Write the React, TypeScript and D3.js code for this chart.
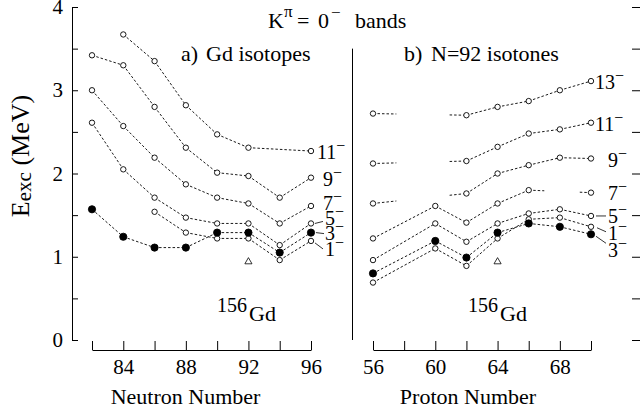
import React, { useEffect, useRef } from "react";
import * as d3 from "d3";

// K^pi = 0^- bands, excitation energies (MeV)
const neutronN = [82, 84, 86, 88, 90, 92, 94, 96];
const gd11 = [null, 3.67, 3.35, 2.82, 2.47, 2.31, null, 2.27];
const gd9 = [3.42, 3.3, 2.8, 2.31, 2.01, 1.97, 1.71, 1.95];
const gd7 = [3.0, 2.57, 2.19, 1.87, 1.71, 1.64, 1.4, 1.61];
const gd5 = [2.61, 2.05, 1.71, 1.47, 1.4, 1.4, 1.14, 1.4];
const gd3 = [1.57, 1.24, 1.11, 1.11, 1.29, 1.29, 1.05, 1.29];
const gd1 = [null, null, 1.54, 1.29, 1.22, 1.22, 0.96, 1.19];

const protonZ = [56, 60, 62, 64, 66, 68, 70];
const z13 = [2.72, null, 2.7, 2.8, 2.87, 3.0, 3.11];
const z11 = [2.12, null, 2.15, 2.32, 2.48, 2.53, 2.61];
const z9 = [1.64, null, 1.76, 2.0, 2.1, 2.19, 2.18];
const z7 = [1.22, 1.61, 1.41, 1.64, 1.8, null, 1.77];
const z5 = [0.96, 1.4, 1.18, 1.4, 1.52, 1.57, 1.49];
const z3 = [0.8, 1.19, 0.99, 1.29, 1.4, 1.36, 1.27];
const z1 = [0.69, 1.1, 0.89, 1.22, 1.45, 1.47, 1.36];

// 156Gd 1- level (triangle)
const gd156N = 92;
const gd156Z = 64;
const gd156E = 0.94;

const yTicks = [0, 0.5, 1, 1.5, 2, 2.5, 3, 3.5, 4];
const yTickLabels = [0, 1, 2, 3, 4];
const nTicks = [82, 84, 86, 88, 90, 92, 94, 96];
const nTickLabels = [84, 88, 92, 96];
const zTicks = [56, 58, 60, 62, 64, 66, 68, 70];
const zTickLabels = [56, 60, 64, 68];

const FONT = "Liberation Serif";

const yScale = d3.scaleLinear().domain([0, 4]).range([340, 7]);
const xN = d3.scaleLinear().domain([82, 96]).range([92, 311]);
const xZ = d3.scaleLinear().domain([56, 70]).range([373, 591]);

type Pt = [number, number];

function segments(xs, vals, xScale, stub) {
  const pts = xs
    .map((x, i) => ({ x, v: vals[i], i }))
    .filter((p) => p.v != null);
  const segs: Pt[][] = [];
  for (let k = 0; k < pts.length - 1; k++) {
    const a = pts[k];
    const b = pts[k + 1];
    const pa: Pt = [xScale(a.x), yScale(a.v)];
    const pb: Pt = [xScale(b.x), yScale(b.v)];
    if (!stub || b.i === a.i + 1) {
      segs.push([pa, pb]);
    } else {
      // missing levels: only short stubs at both ends
      const lerp = (t): Pt => [pa[0] + (pb[0] - pa[0]) * t, pa[1] + (pb[1] - pa[1]) * t];
      segs.push([pa, lerp(0.25)]);
      segs.push([lerp(0.82), pb]);
    }
  }
  return segs;
}

const line = d3.line<Pt>();

const Band = ({ xs, vals, xScale, filled, stub }) => {
  const segs = segments(xs, vals, xScale, stub);
  return (
    <g>
      {segs.map((s, i) => (
        <path key={i} d={line(s)} fill="none" stroke="#000" strokeWidth={0.9} strokeDasharray="2.5,2" />
      ))}
      {xs.map((x, i) =>
        vals[i] == null ? null : (
          <circle
            key={"c" + i}
            cx={xScale(x)}
            cy={yScale(vals[i])}
            r={filled ? 3.6 : 2.7}
            fill={filled ? "#000" : "#fff"}
            stroke="#000"
            strokeWidth={0.9}
          />
        )
      )}
    </g>
  );
};

const Spin = ({ x, y, n }) => (
  <text x={x} y={y} fontSize={20} fontFamily={FONT}>
    {n}
    <tspan dy={-8} fontSize={16}>−</tspan>
  </text>
);

export default function App() {
  const axesRef = useRef(null);

  useEffect(() => {
    const g = d3.select(axesRef.current);
    g.selectAll("*").remove();

    const yAxis = d3
      .axisLeft(yScale)
      .tickValues(yTicks)
      .tickSize(-6)
      .tickSizeOuter(0)
      .tickPadding(9)
      .tickFormat((d) => (yTickLabels.includes(+d) ? String(d) : ""));
    g.append("g").attr("transform", "translate(72,0)").call(yAxis);

    const rightAxis = d3
      .axisRight(yScale)
      .tickValues(yTicks)
      .tickSize(-8)
      .tickSizeOuter(0)
      .tickFormat(() => "");
    g.append("g")
      .attr("transform", "translate(640,0)")
      .call(rightAxis)
      .select(".domain")
      .attr("stroke", "none");

    const nAxis = d3
      .axisBottom(xN)
      .tickValues(nTicks)
      .tickSize(-9)
      .tickSizeOuter(0)
      .tickPadding(9)
      .tickFormat((d) => (nTickLabels.includes(+d) ? String(d) : ""));
    g.append("g").attr("transform", "translate(0,350)").call(nAxis);

    const zAxis = d3
      .axisBottom(xZ)
      .tickValues(zTicks)
      .tickSize(-9)
      .tickSizeOuter(0)
      .tickPadding(9)
      .tickFormat((d) => (zTickLabels.includes(+d) ? String(d) : ""));
    g.append("g").attr("transform", "translate(0,350)").call(zAxis);

    g.selectAll("text")
      .attr("font-family", FONT)
      .attr("font-size", 21)
      .attr("fill", "#000");
    g.selectAll(".tick line").attr("stroke", "#000");
  }, []);

  const xEndN = xN(96);
  const xEndZ = xZ(70);

  return (
    <svg
      width={640}
      height={415}
      style={{ position: "absolute", left: 0, top: 0, background: "#fff" }}
      fontFamily={FONT}
    >
      <rect width={640} height={415} fill="#fff" />
      <g ref={axesRef} />

      {/* divider between panels */}
      <line x1={352.5} x2={352.5} y1={yScale(3.5)} y2={yScale(0)} stroke="#000" />

      {/* left: Gd isotopes */}
      <Band xs={neutronN} vals={gd11} xScale={xN} filled={false} stub={false} />
      <Band xs={neutronN} vals={gd9} xScale={xN} filled={false} stub={false} />
      <Band xs={neutronN} vals={gd7} xScale={xN} filled={false} stub={false} />
      <Band xs={neutronN} vals={gd5} xScale={xN} filled={false} stub={false} />
      <Band xs={neutronN} vals={gd1} xScale={xN} filled={false} stub={false} />
      <Band xs={neutronN} vals={gd3} xScale={xN} filled={true} stub={false} />

      {/* right: N=92 isotones */}
      <Band xs={protonZ} vals={z13} xScale={xZ} filled={false} stub={true} />
      <Band xs={protonZ} vals={z11} xScale={xZ} filled={false} stub={true} />
      <Band xs={protonZ} vals={z9} xScale={xZ} filled={false} stub={true} />
      <Band xs={protonZ} vals={z7} xScale={xZ} filled={false} stub={true} />
      <Band xs={protonZ} vals={z5} xScale={xZ} filled={false} stub={true} />
      <Band xs={protonZ} vals={z1} xScale={xZ} filled={false} stub={true} />
      <Band xs={protonZ} vals={z3} xScale={xZ} filled={true} stub={true} />

      {/* 156Gd triangles */}
      <path
        d={d3.symbol(d3.symbolTriangle, 22)()}
        transform={`translate(${xN(gd156N)},${yScale(gd156E)})`}
        fill="none"
        stroke="#000"
        strokeWidth={0.8}
      />
      <path
        d={d3.symbol(d3.symbolTriangle, 22)()}
        transform={`translate(${xZ(gd156Z)},${yScale(gd156E)})`}
        fill="none"
        stroke="#000"
        strokeWidth={0.8}
      />

      {/* spin labels, left */}
      <Spin x={xEndN + 6} y={yScale(gd11[7]) + 8} n="11" />
      <Spin x={xEndN + 12} y={yScale(gd9[7]) + 8} n="9" />
      <Spin x={xEndN + 12} y={210} n="7" />
      <Spin x={xEndN + 14} y={225} n="5" />
      <Spin x={xEndN + 14} y={240} n="3" />
      <Spin x={xEndN + 14} y={256} n="1" />
      <line x1={xEndN + 4} y1={yScale(gd5[7])} x2={xEndN + 12} y2={yScale(gd5[7]) - 2} stroke="#000" strokeWidth={0.8} />
      <line x1={xEndN + 5} y1={yScale(gd3[7])} x2={xEndN + 13} y2={yScale(gd3[7]) + 1} stroke="#000" strokeWidth={0.8} />
      <line x1={xEndN + 4} y1={yScale(gd1[7]) + 2} x2={xEndN + 12} y2={yScale(gd1[7]) + 8} stroke="#000" strokeWidth={0.8} />

      {/* spin labels, right */}
      <Spin x={xEndZ + 4} y={yScale(z13[6]) + 8} n="13" />
      <Spin x={xEndZ + 4} y={yScale(z11[6]) + 8} n="11" />
      <Spin x={xEndZ + 17} y={yScale(z9[6]) + 8} n="9" />
      <Spin x={xEndZ + 17} y={200} n="7" />
      <Spin x={xEndZ + 17} y={223} n="5" />
      <Spin x={xEndZ + 17} y={240} n="1" />
      <Spin x={xEndZ + 17} y={257} n="3" />
      <line x1={xEndZ + 5} y1={yScale(z5[6])} x2={xEndZ + 15} y2={yScale(z5[6])} stroke="#000" strokeWidth={0.8} />
      <line x1={xEndZ + 6} y1={yScale(z1[6]) + 1} x2={xEndZ + 15} y2={yScale(z1[6]) + 5} stroke="#000" strokeWidth={0.8} />
      <line x1={xEndZ + 5} y1={yScale(z3[6]) + 2} x2={xEndZ + 15} y2={yScale(z3[6]) + 9} stroke="#000" strokeWidth={0.8} />

      {/* title */}
      <text y={28} fontSize={22} fontFamily={FONT}>
        <tspan x={268}>K</tspan>
        <tspan x={284} dy={-11} fontSize={17}>π</tspan>
        <tspan x={297} dy={11}>=</tspan>
        <tspan x={318}>0</tspan>
        <tspan x={331} dy={-10} fontSize={17}>−</tspan>
        <tspan x={355} dy={10}>bands</tspan>
      </text>

      {/* panel labels */}
      <text y={61} fontSize={22} fontFamily={FONT}>
        <tspan x={181}>a)</tspan>
        <tspan x={206}>Gd isotopes</tspan>
      </text>
      <text y={61} fontSize={22} fontFamily={FONT}>
        <tspan x={404}>b)</tspan>
        <tspan x={431}>N=92 isotones</tspan>
      </text>

      {/* 156Gd */}
      <text y={312} fontSize={20} fontFamily={FONT}>
        <tspan x={217}>156</tspan>
        <tspan x={249} dy={9} fontSize={22}>Gd</tspan>
      </text>
      <text y={312} fontSize={20} fontFamily={FONT}>
        <tspan x={468}>156</tspan>
        <tspan x={500} dy={9} fontSize={22}>Gd</tspan>
      </text>

      {/* axis titles */}
      <text x={(xN(82) + xN(96)) / 2 - 16} y={404} fontSize={22} textAnchor="middle" fontFamily={FONT}>
        Neutron Number
      </text>
      <text x={(xZ(56) + xZ(70)) / 2 - 14} y={404} fontSize={22} textAnchor="middle" fontFamily={FONT}>
        Proton Number
      </text>
      <text transform="translate(29,156) rotate(-90)" textAnchor="middle" fontSize={26} fontFamily={FONT}>
        E<tspan fontSize={21} dy={2}>exc</tspan>
        <tspan dy={-2}> (MeV)</tspan>
      </text>
    </svg>
  );
}
